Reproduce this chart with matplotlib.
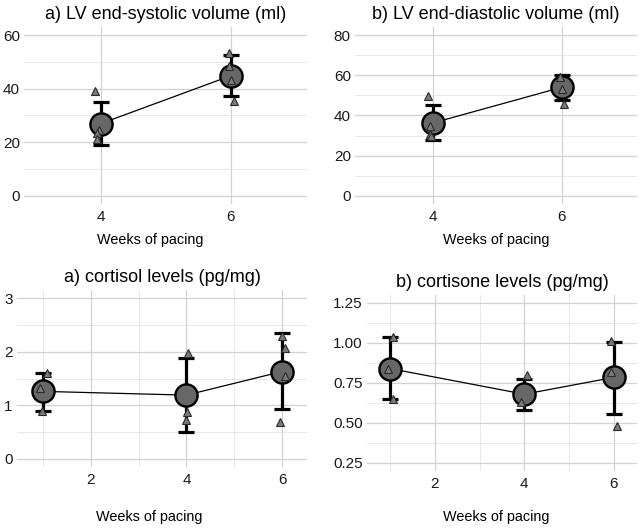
import matplotlib
matplotlib.use("Agg")
import matplotlib.pyplot as plt
from matplotlib.ticker import FixedLocator

plt.rcParams['font.family'] = ['Liberation Sans', 'DejaVu Sans']

# ---- data ----
# top row: LV volumes, weeks 4 and 6
lv_weeks = [4, 6]
esv_mean = [27.0, 44.8]
esv_lo = [19.0, 37.3]
esv_hi = [35.1, 52.6]
esv_pts_x = [3.91, 3.97, 3.93, 3.94, 5.97, 5.98, 6.0, 6.05]
esv_pts_y = [39.3, 24.5, 23.5, 21.2, 53.2, 48.5, 43.2, 35.3]

edv_mean = [36.3, 54.0]
edv_lo = [27.8, 47.8]
edv_hi = [45.0, 60.3]
edv_pts_x = [3.93, 3.95, 3.96, 3.97, 5.97, 6.0, 6.04]
edv_pts_y = [49.5, 35.0, 31.0, 30.0, 59.2, 53.3, 45.8]

# bottom row: hormone levels, weeks 1, 4 and 6
hor_weeks = [1, 4, 6]
cortisol_mean = [1.26, 1.19, 1.63]
cortisol_lo = [0.90, 0.50, 0.93]
cortisol_hi = [1.61, 1.88, 2.35]
cortisol_pts_x = [1.09, 0.95, 0.99, 4.03, 4.02, 3.99, 6.0, 6.05, 6.05, 5.96]
cortisol_pts_y = [1.60, 1.32, 0.90, 1.98, 0.88, 0.72, 2.30, 2.06, 1.55, 0.68]

cortisone_mean = [0.84, 0.68, 0.785]
cortisone_lo = [0.648, 0.583, 0.557]
cortisone_hi = [1.036, 0.777, 1.006]
cortisone_pts_x = [1.07, 0.94, 1.07, 4.07, 3.93, 5.93, 5.93, 6.07]
cortisone_pts_y = [1.04, 0.84, 0.65, 0.80, 0.63, 1.01, 0.82, 0.48]

W, H = 642, 528
fig = plt.figure(figsize=(W / 100, H / 100), dpi=100)


def add_panel(left, top, right, bottom):
    return fig.add_axes([left / W, 1 - bottom / H, (right - left) / W, (bottom - top) / H])


def draw(ax, title, x, mean, lo, hi, px, py, xlim, ylim, xticks, yticks, yminor,
         xminor=None, label_xy=(0.5, -0.2), fmt=None):
    ax.set_xlim(*xlim)
    ax.set_ylim(*ylim)
    ax.xaxis.set_major_locator(FixedLocator(xticks))
    ax.yaxis.set_major_locator(FixedLocator(yticks))
    ax.yaxis.set_minor_locator(FixedLocator(yminor))
    ax.xaxis.set_minor_locator(FixedLocator(xminor if xminor else []))
    if fmt:
        ax.set_yticklabels([fmt.format(v) for v in yticks])
    ax.grid(which='major', color='#d2d2d2', lw=0.9)
    ax.grid(which='minor', color='#e4e4e4', lw=0.6)
    ax.set_axisbelow(True)
    for s in ax.spines.values():
        s.set_visible(False)
    ax.tick_params(which='both', length=0, labelsize=11, colors='#1a1a1a')
    ax.tick_params(axis='x', pad=4)
    ax.tick_params(axis='y', pad=3)

    # mean line, error bars, mean circles, individual triangles
    ax.plot(x, mean, color='black', lw=0.9, zorder=2)
    yerr = [[m - l for m, l in zip(mean, lo)], [h - m for m, h in zip(mean, hi)]]
    ax.errorbar(x, mean, yerr=yerr, fmt='none', ecolor='black', elinewidth=2.3,
                capsize=5.5, capthick=2.3, zorder=3)
    ax.plot(x, mean, 'o', ms=16, mfc='#676767', mec='black', mew=1.7, zorder=4)
    ax.plot(px, py, '^', ms=6, mfc='#7a7a7a', mec='#2a2a2a', mew=0.8, zorder=5)

    ax.set_title(title, fontsize=13, pad=6, color='black')
    ax.set_xlabel('Weeks of pacing', fontsize=10.4, color='black')
    ax.xaxis.set_label_coords(*label_xy)
    ax.xaxis.label.set_va('center')


ax1 = add_panel(24, 27, 307, 204)
draw(ax1, 'a) LV end-systolic volume (ml)', lv_weeks, esv_mean, esv_lo, esv_hi,
     esv_pts_x, esv_pts_y, (2.81, 7.18), (-3, 63), [4, 6], [0, 20, 40, 60],
     [10, 30, 50], label_xy=(0.445, -0.203))

ax2 = add_panel(355, 27, 637, 204)
draw(ax2, 'b) LV end-diastolic volume (ml)', lv_weeks, edv_mean, edv_lo, edv_hi,
     edv_pts_x, edv_pts_y, (2.79, 7.17), (-4, 84), [4, 6], [0, 20, 40, 60, 80],
     [10, 30, 50, 70], label_xy=(0.5, -0.203))

ax3 = add_panel(17, 290, 307, 467)
draw(ax3, 'a) cortisol levels (pg/mg)', hor_weeks, cortisol_mean, cortisol_lo,
     cortisol_hi, cortisol_pts_x, cortisol_pts_y, (0.46, 6.52), (-0.15, 3.15),
     [2, 4, 6], [0, 1, 2, 3], [0.5, 1.5, 2.5], xminor=[1, 3, 5],
     label_xy=(0.455, -0.281))

ax4 = add_panel(367, 295, 637, 471)
draw(ax4, 'b) cortisone levels (pg/mg)', hor_weeks, cortisone_mean, cortisone_lo,
     cortisone_hi, cortisone_pts_x, cortisone_pts_y, (0.48, 6.52), (0.2, 1.3),
     [2, 4, 6], [0.25, 0.5, 0.75, 1.0, 1.25], [0.375, 0.625, 0.875, 1.125],
     xminor=[1, 3, 5], label_xy=(0.48, -0.26), fmt='{:.2f}')

fig.savefig('out.png', dpi=100)
